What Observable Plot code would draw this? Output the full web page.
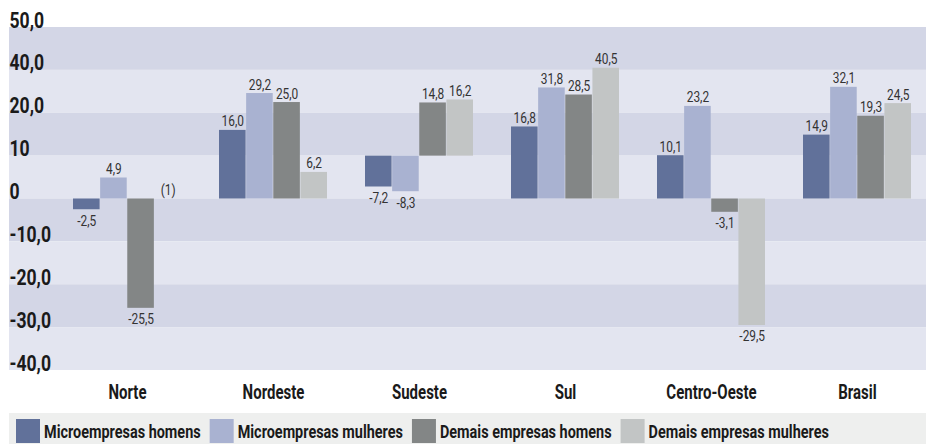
<!DOCTYPE html>
<html><head><meta charset="utf-8">
<script src="https://cdn.jsdelivr.net/npm/d3@7"></script>
<script src="https://cdn.jsdelivr.net/npm/@observablehq/plot@0.6"></script>
<style>
body{margin:0;background:#fff;font-family:Roboto,"Liberation Sans",sans-serif;}
#chart svg{display:block;}
</style></head><body><div id="chart"></div><div id="legend"></div>
<script>
const regions = ["Norte","Nordeste","Sudeste","Sul","Centro-Oeste","Brasil"];
const seriesNames = ["Microempresas homens","Microempresas mulheres","Demais empresas homens","Demais empresas mulheres"];
const microHomens    = [-2.5, 16.0, -7.2, 16.8, 10.1, 14.9];
const microMulheres  = [ 4.9, 29.2, -8.3, 31.8, 23.2, 32.1];
const demaisHomens   = [-25.5, 25.0, 14.8, 28.5, -3.1, 19.3];
const demaisMulheres = [null, 6.2, 16.2, 40.5, -29.5, 24.5];
const missingNote = ["(1)", "", "", "", "", ""];
// level from which each region's bars are drawn in the original picture
const barBase = [0, 0, 10, 0, 0, 0];
const yTickValues = [50, 40, 20, 10, 0, -10, -20, -30, -40];
const yTickLabels = ["50,0","40,0","20,0","10","0","-10,0","-20,0","-30,0","-40,0"];
const seriesColors = ["#61719a","#a9b2d1","#838686","#c2c5c5"];

const seriesValues = [microHomens, microMulheres, demaisHomens, demaisMulheres];
const locale = d3.formatLocale({decimal: ",", thousands: ".", grouping: [3], currency: ["R$", ""], minus: "-"});
const fmt = locale.format(".1f");

// the original's value axis: equal spacing between its (uneven) tick values
const asc = yTickValues.slice().sort((a, b) => a - b);
const axisPiecewise = d3.scaleLinear().domain(asc).range(asc.map((d, i) => i));

const xRange = [71, 913], padIn = 0.26;
const bw = (xRange[1]-xRange[0])/(regions.length - padIn)*(1-padIn);
const q = bw/4;

const stripes = d3.range(yTickValues.length-1).map(i => ({y1: yTickValues[i], y2: yTickValues[i+1], k: i%2}));

const marks = [
  Plot.rectY(stripes, {y1:"y1", y2:"y2", fill: d => d.k ? "#e3e5f0" : "#d3d6e6"})
];
seriesValues.forEach((vals, i) => {
  const rows = regions.map((r, j) => ({region: r, base: barBase[j], value: vals[j], note: missingNote[j]}));
  const bars = rows.filter(d => d.value != null);
  marks.push(Plot.barY(bars, {x:"region", y1:"base", y2: d => d.base + d.value, fill: seriesColors[i], insetLeft: i*q, insetRight: (3-i)*q}));
  const pos = rows.filter(d => d.value == null ? (i === 3 && d.note) : d.value >= 0);
  const neg = rows.filter(d => d.value != null && d.value < 0);
  marks.push(Plot.text(pos, {x:"region", y: d => d.base + (d.value ?? 0), text: d => d.value == null ? d.note : fmt(d.value), dx:(i-1.5)*q, dy:-4, lineAnchor:"bottom", fontSize:14, fill:"#333"}));
  marks.push(Plot.text(neg, {x:"region", y: d => d.base + d.value, text: d => fmt(d.value), dx:(i-1.5)*q, dy:6, lineAnchor:"top", fontSize:14, fill:"#333"}));
});
marks.push(Plot.text(yTickValues, {y: d => d, text: (d, i) => yTickLabels[i], frameAnchor:"left", textAnchor:"start", lineAnchor:"bottom", fontSize:22, fontWeight:"bold", fill:"#1a1a1a"}));
marks.push(Plot.text(regions, {x: d => d, text: d => d, frameAnchor:"bottom", dy:22, lineAnchor:"middle", fontSize:20, fontWeight:"bold", fill:"#1a1a1a"}));

const chart = Plot.plot({
  width: 926, height: 413,
  marginLeft: 9, marginRight: 0, marginTop: 27, marginBottom: 43,
  style: {fontFamily: "Roboto, sans-serif", background: "transparent"},
  x: {domain: regions, range: xRange, paddingInner: padIn, paddingOuter: 0, axis: null},
  y: {transform: v => axisPiecewise(v), axis: null, nice: false, zero: false},
  marks
});
document.getElementById("chart").appendChild(chart);

// condense the glyphs horizontally (the original uses a condensed face)
const squeeze = {22: 0.8, 20: 0.75, 14: 0.85};
function condense(root) {
  root.querySelectorAll("text").forEach(t => {
    let fs = t.getAttribute("font-size");
    let p = t.parentNode;
    while (!fs && p && p.getAttribute) { fs = p.getAttribute("font-size"); p = p.parentNode; }
    const k = squeeze[parseFloat(fs)] || 1;
    const tr = t.getAttribute("transform");
    if (tr) t.setAttribute("transform", tr + ` scale(${k},1)`);
    else {
      const x = +t.getAttribute("x") || 0, y = +t.getAttribute("y") || 0;
      t.removeAttribute("x"); t.removeAttribute("y");
      t.setAttribute("transform", `translate(${x},${y}) scale(${k},1)`);
    }
  });
}
condense(chart);

// legend
const lsvg = d3.select("#legend").append("svg").attr("width", 926).attr("height", 31).style("display", "block");
lsvg.append("rect").attr("x", 9).attr("y", 0).attr("width", 917).attr("height", 31).attr("fill", "#eeefee");
let lx = 16;
const lk = 0.76;
seriesNames.forEach((n, i) => {
  lsvg.append("rect").attr("x", lx).attr("y", 6).attr("width", 24).attr("height", 24).attr("fill", seriesColors[i]);
  const t = lsvg.append("text").attr("font-family", "Roboto, sans-serif").attr("font-weight", "bold").attr("font-size", 19)
    .attr("fill", "#1a1a1a").attr("transform", `translate(${lx + 28},25) scale(${lk},1)`).text(n);
  const w = t.node().getComputedTextLength() * lk;
  lx += 28 + w + 9;
});
</script></body></html>
